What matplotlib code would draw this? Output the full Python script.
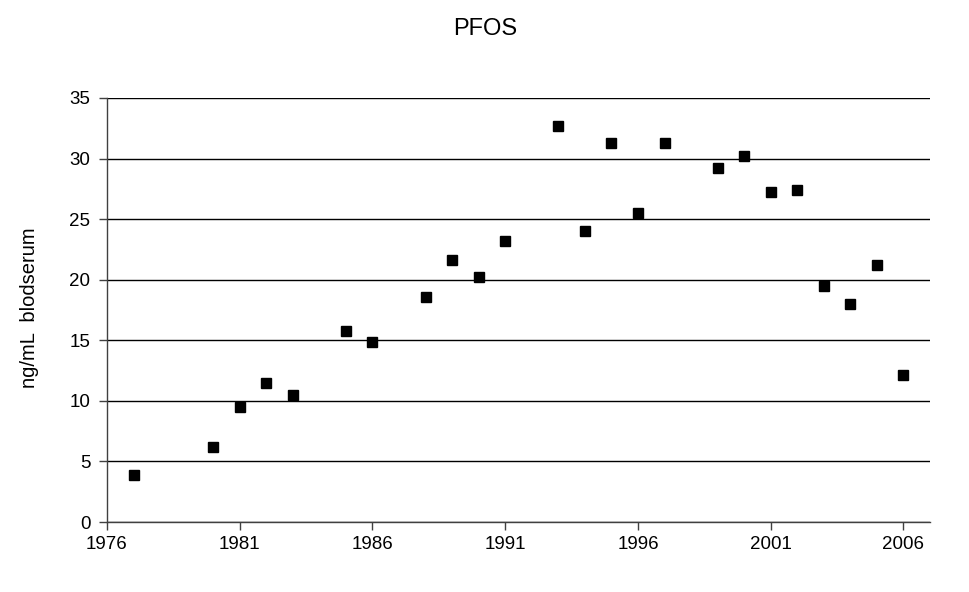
import numpy as np
import matplotlib.pyplot as plt

plt.rcParams['font.family'] = ['Liberation Sans', 'DejaVu Sans']

years = [1977, 1980, 1981, 1982, 1983, 1985, 1986, 1988, 1989, 1990, 1991,
         1993, 1994, 1995, 1996, 1997, 1999, 2000, 2001, 2002, 2003, 2004,
         2005, 2006]
pfos = [3.9, 6.2, 9.5, 11.5, 10.5, 15.8, 14.9, 18.6, 21.6, 20.2, 23.2,
        32.7, 24.0, 31.3, 25.5, 31.3, 29.2, 30.2, 27.2, 27.4, 19.5, 18.0,
        21.2, 12.1]

fig = plt.figure(figsize=(9.7, 5.92), dpi=100)
ax = fig.add_axes([0.1103, 0.1182, 0.8485, 0.7163])

ax.plot(years, pfos, linestyle='none', marker='s', markersize=6.5,
        color='black', zorder=3)

ax.set_xlim(1976, 2007)
ax.set_ylim(0, 35)
ax.set_xticks(np.arange(1976, 2007, 5))
ax.set_yticks(np.arange(0, 36, 5))
ax.yaxis.grid(True, color='black', linewidth=1)
ax.set_axisbelow(True)

for s in ['top', 'right']:
    ax.spines[s].set_visible(False)
for s in ['left', 'bottom']:
    ax.spines[s].set_color('#404040')
    ax.spines[s].set_linewidth(1)

ax.tick_params(direction='out', length=6, width=1, color='#404040',
               labelsize=13.5)
ax.tick_params(axis='y', pad=6)
ax.tick_params(axis='x', pad=4)

ax.set_ylabel('ng/mL  blodserum', fontsize=14.5)
ax.yaxis.set_label_coords(-0.083, 0.506)
fig.text(0.5, 0.951, 'PFOS', ha='center', va='center', fontsize=17)

fig.savefig('out.png', dpi=100)
